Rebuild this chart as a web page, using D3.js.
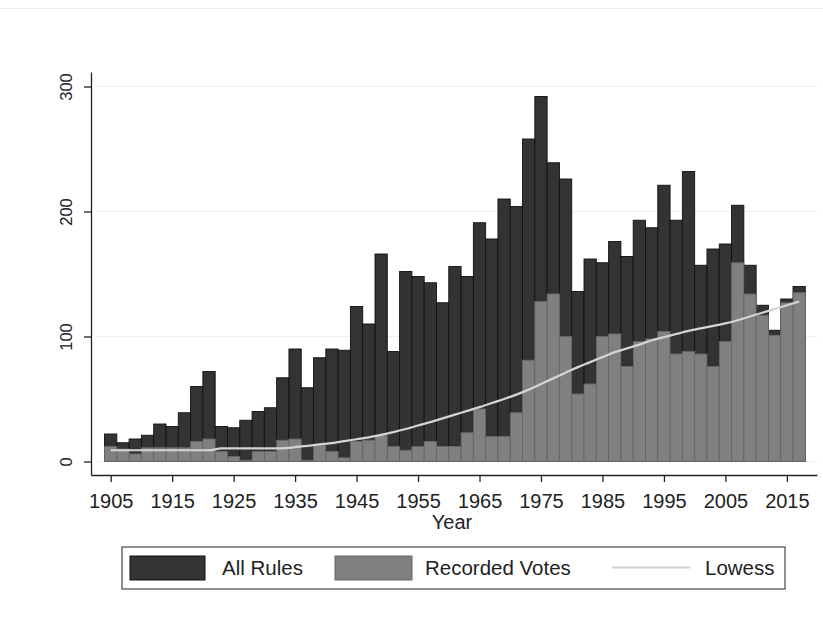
<!DOCTYPE html>
<html>
<head>
<meta charset="utf-8">
<script src="https://cdn.jsdelivr.net/npm/d3@7"></script>
<style>
  body { margin: 0; background: #fff; }
  svg { display: block; font-family: "Liberation Sans", Arial, sans-serif; }
  .axis text { fill: #222; }
  .axis path, .axis line { stroke: #222; stroke-width: 1.3; }
</style>
</head>
<body>
<svg id="chart"></svg>
<script>
// one bar per Congress, every 2 years
const years = [1905, 1907, 1909, 1911, 1913, 1915, 1917, 1919, 1921, 1923,
  1925, 1927, 1929, 1931, 1933, 1935, 1937, 1939, 1941, 1943,
  1945, 1947, 1949, 1951, 1953, 1955, 1957, 1959, 1961, 1963,
  1965, 1967, 1969, 1971, 1973, 1975, 1977, 1979, 1981, 1983,
  1985, 1987, 1989, 1991, 1993, 1995, 1997, 1999, 2001, 2003,
  2005, 2007, 2009, 2011, 2013, 2015, 2017]

const allRules = [22, 15, 18, 21, 30, 28, 39, 60, 72, 28,
  27, 33, 40, 43, 67, 90, 59, 83, 90, 89,
  124, 110, 166, 88, 152, 148, 143, 127, 156, 148,
  191, 178, 210, 204, 258, 292, 239, 226, 136, 162,
  159, 176, 164, 193, 187, 221, 193, 232, 157, 170,
  174, 205, 157, 125, 105, 130, 140]

const recordedVotes = [12, 10, 6, 11, 11, 11, 11, 16, 18, 8,
  4, 1, 8, 8, 17, 18, 1, 13, 8, 3,
  16, 17, 21, 12, 9, 12, 16, 12, 12, 23,
  42, 20, 20, 39, 81, 128, 134, 100, 54, 62,
  100, 102, 76, 96, 98, 104, 86, 88, 86, 76,
  96, 159, 134, 117, 101, 127, 135]

const lowess = [9, 9, 9, 9, 9, 9, 9, 9, 9, 10.5,
  10.5, 10.5, 10.5, 10.5, 10.5, 11.5, 12.5, 13.7, 14.7, 16.3,
  17.8, 19.3, 21.3, 23.5, 26, 28.8, 31.5, 34.5, 37.5, 40.5,
  43.5, 46.8, 50, 53.5, 57.5, 62, 66.5, 71, 75.5, 79.5,
  83.5, 87.5, 90.5, 93.5, 97, 99.5, 102, 104.5, 106.5, 108.5,
  110.5, 113, 116, 119, 122, 125, 128]

const xTicks = [1905, 1915, 1925, 1935, 1945, 1955, 1965, 1975, 1985, 1995, 2005, 2015]
const yTicks = [0, 100, 200, 300]
const legendLabels = ["All Rules", "Recorded Votes", "Lowess"]

const rows = years.map((y, i) => ({year: y, all: allRules[i], rec: recordedVotes[i], low: lowess[i]}))

function getConfig() {
  let width = 823
  let height = 633
  let plot = {left: 91, right: 817, top: 72, bottom: 475}
  let container = d3.select("#chart").attr("width", width).attr("height", height)
  return {width, height, plot, container}
}

function getScales(config) {
  let {plot} = config
  let xScale = d3.scaleLinear().domain([1901.8, 2019.9]).range([plot.left, plot.right])
  let yScale = d3.scaleLinear().domain([-10.8, 311.6]).range([plot.bottom, plot.top])
  return {xScale, yScale}
}

function drawGrid(config, scales) {
  let {container, plot} = config
  let {yScale} = scales
  container.append("line")
    .attr("x1", 0).attr("x2", config.width).attr("y1", 8.5).attr("y2", 8.5)
    .attr("stroke", "#e6eef0")
  container.append("g").selectAll("line").data(yTicks).enter().append("line")
    .attr("x1", plot.left + 5).attr("x2", plot.right)
    .attr("y1", d => yScale(d)).attr("y2", d => yScale(d))
    .attr("stroke", "#efefef").attr("stroke-width", 1.2)
}

function drawBars(config, scales) {
  let {container} = config
  let {xScale, yScale} = scales
  let bw = xScale(2) - xScale(0)

  // all rules first, recorded votes drawn over them
  container.append("g").selectAll("rect").data(rows).enter().append("rect")
    .attr("x", d => xScale(d.year) - bw / 2)
    .attr("width", bw)
    .attr("y", d => yScale(d.all))
    .attr("height", d => yScale(0) - yScale(d.all))
    .attr("fill", "#333333")
    .attr("stroke", "#111")
    .attr("stroke-width", 0.9)

  container.append("g").selectAll("rect").data(rows).enter().append("rect")
    .attr("x", d => xScale(d.year) - bw / 2)
    .attr("width", bw)
    .attr("y", d => yScale(d.rec))
    .attr("height", d => yScale(0) - yScale(d.rec))
    .attr("fill", "#808080")
    .attr("stroke", "#676767")
    .attr("stroke-width", 0.9)

  let line = d3.line().x(d => xScale(d.year)).y(d => yScale(d.low)).curve(d3.curveMonotoneX)
  container.append("path").datum(rows)
    .attr("d", line)
    .attr("fill", "none")
    .attr("stroke", "#d4d4d4")
    .attr("stroke-width", 2.2)
}

function drawAxes(config, scales) {
  let {container, plot} = config
  let {xScale, yScale} = scales

  let axisX = d3.axisBottom(xScale).tickValues(xTicks).tickFormat(d3.format("d"))
    .tickSize(7).tickSizeOuter(0).tickPadding(12)
  container.append("g").attr("class", "axis")
    .attr("transform", `translate(0,${plot.bottom})`)
    .call(axisX)
    .selectAll("text").style("font-size", "20px")

  let axisY = d3.axisLeft(yScale).tickValues(yTicks).tickSize(7).tickSizeOuter(0)
  let gy = container.append("g").attr("class", "axis")
    .attr("transform", `translate(${plot.left},0)`)
    .call(axisY)
  gy.selectAll("text")
    .attr("x", 0).attr("dy", 0)
    .attr("text-anchor", "middle")
    .attr("transform", "translate(-19,0) rotate(-90)")
    .style("font-size", "16.5px")

  container.append("text")
    .attr("x", 452).attr("y", 529)
    .attr("text-anchor", "middle")
    .attr("fill", "#222")
    .style("font-size", "20px")
    .text("Year")
}

function drawLegend(config) {
  let {container} = config
  let g = container.append("g")
  g.append("rect")
    .attr("x", 122).attr("y", 547).attr("width", 663).attr("height", 42)
    .attr("fill", "#fff").attr("stroke", "#444").attr("stroke-width", 1.2)
  g.append("rect").attr("x", 130).attr("y", 556).attr("width", 75).attr("height", 24)
    .attr("fill", "#333333").attr("stroke", "#111")
  g.append("rect").attr("x", 335).attr("y", 556).attr("width", 77).attr("height", 24)
    .attr("fill", "#808080").attr("stroke", "#676767")
  g.append("line").attr("x1", 612).attr("x2", 690).attr("y1", 567.5).attr("y2", 567.5)
    .attr("stroke", "#cfcfcf").attr("stroke-width", 2)
  let textX = [222, 425, 705]
  g.selectAll("text.lab").data(legendLabels).enter().append("text")
    .attr("class", "lab")
    .attr("x", (d, i) => textX[i]).attr("y", 575)
    .attr("fill", "#222")
    .style("font-size", "20.5px")
    .text(d => d)
}

let config = getConfig()
let scales = getScales(config)
drawGrid(config, scales)
drawBars(config, scales)
drawAxes(config, scales)
drawLegend(config)
</script>
</body>
</html>
